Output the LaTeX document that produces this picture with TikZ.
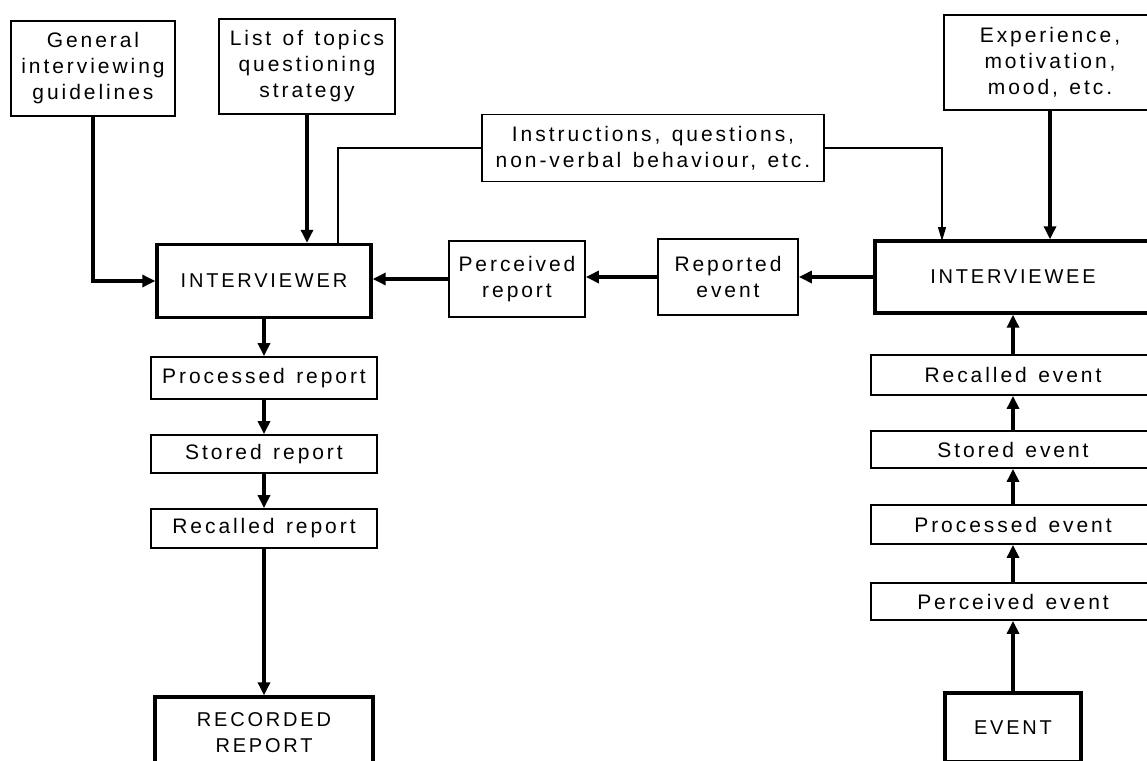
\documentclass[tikz,border=0pt]{standalone}
\usepackage{fontspec}
\setmainfont{Liberation Sans}[LetterSpace=14,WordSpace=1.3]
\usetikzlibrary{arrows.meta}

\tikzset{
  box/.style={draw,line width=1.8pt,align=center,inner sep=0pt,
    font=\fontsize{21}{26}\selectfont},
  bigbox/.style={box,line width=3.4pt,font=\fontsize{20}{26}\selectfont},
  flow/.style={line width=3.2pt,-{Triangle[length=13pt,width=12pt]}},
  link/.style={line width=1.2pt},
  linkarrow/.style={link,-{Triangle[length=14pt,width=8pt]}}
}

\begin{document}
\begin{tikzpicture}[x=1pt,y=-1pt]
\clip (0,0) rectangle (1147,760);

% sources on top
\node[box,minimum width=164pt,minimum height=95pt] (gen) at (93,68.5) {General\\interviewing\\guidelines};
\node[box,minimum width=176pt,minimum height=95pt] (topics) at (307,66.5) {List of topics\\questioning\\strategy};
\node[box,minimum width=212pt,minimum height=95pt] (exper) at (1050,62.5) {Experience,\\motivation,\\mood, etc.};
\node[box,minimum width=342pt,minimum height=67pt] (instr) at (653,148) {Instructions, questions,\\non-verbal behaviour, etc.};

% middle row
\node[bigbox,minimum width=214pt,minimum height=73pt] (iver) at (264,281) {INTERVIEWER};
\node[box,minimum width=136pt,minimum height=76pt] (prep) at (517,279) {Perceived\\report};
\node[box,minimum width=140pt,minimum height=76pt] (revt) at (728,277) {Reported\\event};
\node[bigbox,minimum width=276pt,minimum height=72pt] (ivee) at (1013,277) {INTERVIEWEE};

% interviewer side
\node[box,minimum width=226pt,minimum height=42pt] (prorep) at (264,378) {Processed report};
\node[box,minimum width=226pt,minimum height=38pt] (storep) at (264,454) {Stored report};
\node[box,minimum width=226pt,minimum height=39pt] (recrep) at (264,528.5) {Recalled report};
\node[bigbox,minimum width=218pt,minimum height=72pt] (record) at (264,733) {RECORDED\\REPORT};

% interviewee side
\node[box,minimum width=284pt,minimum height=40pt] (recev) at (1013,375) {Recalled event};
\node[box,minimum width=284pt,minimum height=37pt] (stoev) at (1013,449.5) {Stored event};
\node[box,minimum width=284pt,minimum height=39pt] (proev) at (1013,524.5) {Processed event};
\node[box,minimum width=284pt,minimum height=37pt] (perev) at (1013,601.5) {Perceived event};
\node[bigbox,minimum width=136pt,minimum height=69pt] (event) at (1013,727.5) {EVENT};

\coordinate (ivertap) at (338,245);
\coordinate (iveetap) at (942,241);

% connectors
\draw[flow] (gen.south) |- (iver.west);
\draw[flow] (topics.south) -- (topics.south |- iver.north);
\draw[flow] (exper.south) -- (exper.south |- ivee.north);
\draw[link] (instr.west) -| (ivertap);
\draw[linkarrow] (instr.east) -| (iveetap);

\draw[flow] (ivee.west) -- (ivee.west -| revt.east);
\draw[flow] (revt.west) -- (revt.west -| prep.east);
\draw[flow] (prep.west) -- (prep.west -| iver.east);

\draw[flow] (iver.south) -- (prorep.north);
\draw[flow] (prorep.south) -- (storep.north);
\draw[flow] (storep.south) -- (recrep.north);
\draw[flow] (recrep.south) -- (record.north);

\draw[flow] (event.north) -- (perev.south);
\draw[flow] (perev.north) -- (proev.south);
\draw[flow] (proev.north) -- (stoev.south);
\draw[flow] (stoev.north) -- (recev.south);
\draw[flow] (recev.north) -- (ivee.south);
\end{tikzpicture}
\end{document}
